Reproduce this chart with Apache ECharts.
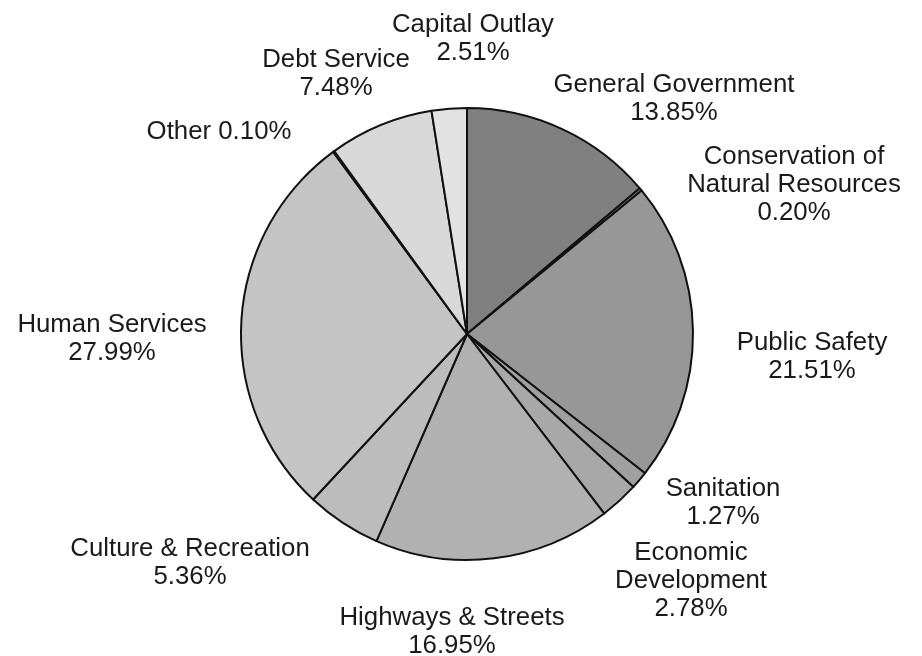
<!DOCTYPE html>
<html>
<head>
<meta charset="utf-8">
<script src="https://cdn.jsdelivr.net/npm/echarts@6/dist/echarts.min.js"></script>
<style>
  html, body { margin: 0; padding: 0; background: #ffffff; }
  #chart { width: 922px; height: 656px; }
</style>
</head>
<body>
<div id="chart"></div>
<script>
// ---- Data ----
const categories = [
  'General Government',
  'Conservation of\nNatural Resources',
  'Public Safety',
  'Sanitation',
  'Economic\nDevelopment',
  'Highways & Streets',
  'Culture & Recreation',
  'Human Services',
  'Other',
  'Debt Service',
  'Capital Outlay'
];
const values = [13.85, 0.20, 21.51, 1.27, 2.78, 16.95, 5.36, 27.99, 0.10, 7.48, 2.51];
const sliceColors = ['#808080', '#8a8a8a', '#979797', '#a0a0a0', '#a8a8a8', '#b1b1b1',
                     '#bcbcbc', '#c4c4c4', '#cacaca', '#d8d8d8', '#e2e2e2'];
// label centres (pixels) for each slice's text block
const labelPos = [
  [674, 99], [794, 185], [812, 357], [723, 503], [691, 581], [452, 632],
  [190, 563], [112, 339], [219, 132], [336, 74], [473, 39]
];
const singleLineLabels = ['Other'];

const chart = echarts.init(document.getElementById('chart'), null, { renderer: 'canvas' });
chart.setOption({
  animation: false,
  backgroundColor: '#ffffff',
  series: [{
    type: 'pie',
    center: [467, 334],
    radius: [0, 226],
    startAngle: 90,
    clockwise: true,
    avoidLabelOverlap: false,
    silent: true,
    data: categories.map((c, i) => ({
      name: c,
      value: values[i],
      itemStyle: { color: sliceColors[i] }
    })),
    itemStyle: { borderColor: '#111111', borderWidth: 2 },
    label: {
      show: true,
      position: 'outside',
      fontFamily: 'Liberation Sans, Arial, sans-serif',
      fontSize: 25.8,
      lineHeight: 28,
      color: '#1a1a1a',
      align: 'center',
      formatter: p => singleLineLabels.includes(p.name)
        ? p.name + ' ' + p.value.toFixed(2) + '%'
        : p.name + '\n' + p.value.toFixed(2) + '%'
    },
    labelLine: { show: false },
    labelLayout: function (params) {
      const pos = labelPos[params.dataIndex];
      return { x: pos[0], y: pos[1], align: 'center', verticalAlign: 'middle' };
    }
  }]
});
</script>
</body>
</html>
